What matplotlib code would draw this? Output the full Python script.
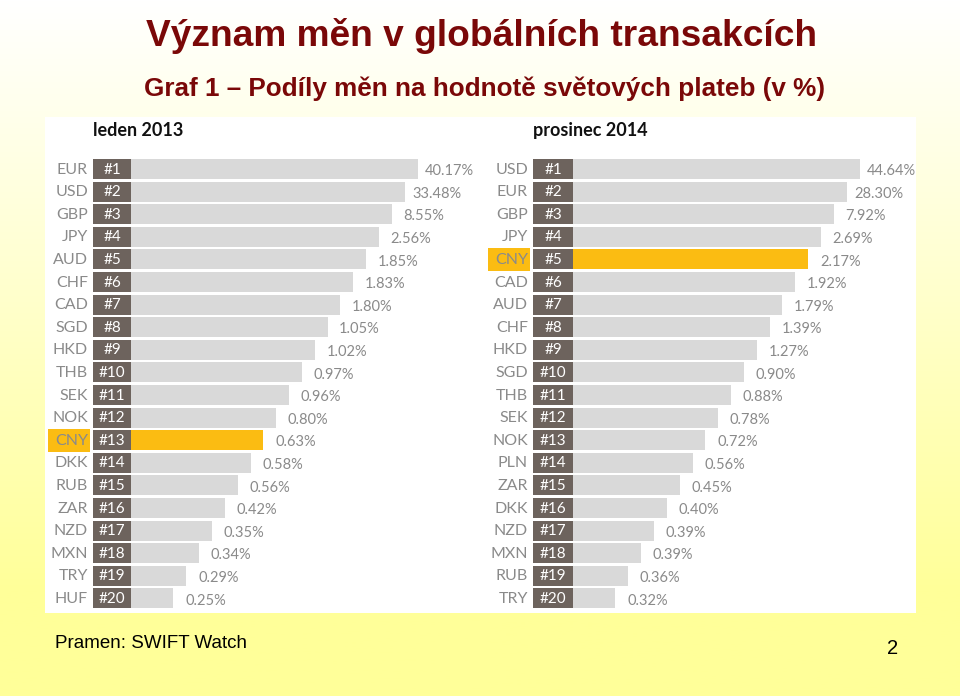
import matplotlib.pyplot as plt
import matplotlib.patches as mpatches
import numpy as np

# data
left_title = "leden 2013"
left_cur = ['EUR', 'USD', 'GBP', 'JPY', 'AUD', 'CHF', 'CAD', 'SGD', 'HKD', 'THB',
            'SEK', 'NOK', 'CNY', 'DKK', 'RUB', 'ZAR', 'NZD', 'MXN', 'TRY', 'HUF']
left_val = [40.17, 33.48, 8.55, 2.56, 1.85, 1.83, 1.80, 1.05, 1.02, 0.97,
            0.96, 0.80, 0.63, 0.58, 0.56, 0.42, 0.35, 0.34, 0.29, 0.25]

right_title = "prosinec 2014"
right_cur = ['USD', 'EUR', 'GBP', 'JPY', 'CNY', 'CAD', 'AUD', 'CHF', 'HKD', 'SGD',
             'THB', 'SEK', 'NOK', 'PLN', 'ZAR', 'DKK', 'NZD', 'MXN', 'RUB', 'TRY']
right_val = [44.64, 28.30, 7.92, 2.69, 2.17, 1.92, 1.79, 1.39, 1.27, 0.90,
             0.88, 0.78, 0.72, 0.56, 0.45, 0.40, 0.39, 0.39, 0.36, 0.32]

highlight = 'CNY'

W, H = 960, 696
fig = plt.figure(figsize=(W / 100, H / 100), dpi=100)

# slide background: white -> pale yellow gradient
bg = fig.add_axes([0, 0, 1, 1])
grad = np.linspace(0, 1, 256).reshape(-1, 1)
grad = np.clip(grad / 0.85, 0, 1)
top = np.array([1.0, 1.0, 1.0])
bot = np.array([1.0, 1.0, 0.60])
img = top[None, None, :] * (1 - grad[:, :, None]) + bot[None, None, :] * grad[:, :, None]
bg.imshow(img, aspect='auto', extent=[0, W, H, 0])
bg.set_xlim(0, W)
bg.set_ylim(H, 0)
bg.axis('off')

# white picture area
bg.add_patch(mpatches.Rectangle((45, 117), 871, 496, facecolor='white', edgecolor='none'))

red = '#7a0808'
bg.text(481, 36, "Význam měn v globálních transakcích", ha='center', va='center',
        fontsize=26.7, fontweight='bold', color=red, family='Liberation Sans')
bg.text(484, 89, "Graf 1 – Podíly měn na hodnotě světových plateb (v %)", ha='center',
        va='center', fontsize=18.8, fontweight='bold', color=red, family='Liberation Sans')
bg.text(55, 643, "Pramen: SWIFT Watch", ha='left', va='center', fontsize=13.5,
        color='black', family='Liberation Sans')
bg.text(893, 648, "2", ha='center', va='center', fontsize=14.5,
        color='black', family='Liberation Sans')

# panels
step = 12.85          # px per rank step of the staircase bars
row = 22.6            # px per row
bar_color = '#d9d9d9'
rank_color = '#6d635d'
txt_grey = '#8a8a8a'
gold = '#fbbc12'
font = 'Lato'


def panel(x0, x1, bar_start, box_w, title, cur, val):
    y_top = 169 - row / 2
    y_bot = 169 + 19 * row + row / 2
    ax = fig.add_axes([x0 / W, 1 - y_bot / H, (x1 - x0) / W, (y_bot - y_top) / H])
    ax.set_xlim(x0 - bar_start, x1 - bar_start)
    ax.set_ylim(20.5, 0.5)
    ax.axis('off')
    ranks = np.arange(1, len(cur) + 1)
    lengths = step * (23.3 - ranks)
    colors = [gold if c == highlight else bar_color for c in cur]
    ax.barh(ranks, lengths, left=0, height=0.88, color=colors)
    ax.barh(ranks, box_w, left=-box_w, height=0.88, color=rank_color)
    for r, c, v, ln in zip(ranks, cur, val, lengths):
        if c == highlight:
            ax.add_patch(mpatches.Rectangle((-box_w - 45, r - 0.5), 42, 1.0,
                                            facecolor=gold, edgecolor='none'))
        ax.text(-box_w - 5, r + 0.03, c, ha='right', va='center', fontsize=11.5,
                color=txt_grey, family=font)
        ax.text(-box_w / 2, r + 0.03, "#%d" % r, ha='center', va='center',
                fontsize=11, color='white', family=font)
        ax.text(ln + 32, r + 0.1, "%.2f%%" % v, ha='center', va='center',
                fontsize=10.5, color=txt_grey, family=font)
    ax.text(-box_w, -0.72, title, ha='left', va='center', fontsize=13,
            color='#111111', family=font, fontweight='bold')


panel(45, 480, 131, 38, left_title, left_cur, left_val)
panel(480, 916, 573, 40, right_title, right_cur, right_val)

fig.savefig('out.png', dpi=100)
